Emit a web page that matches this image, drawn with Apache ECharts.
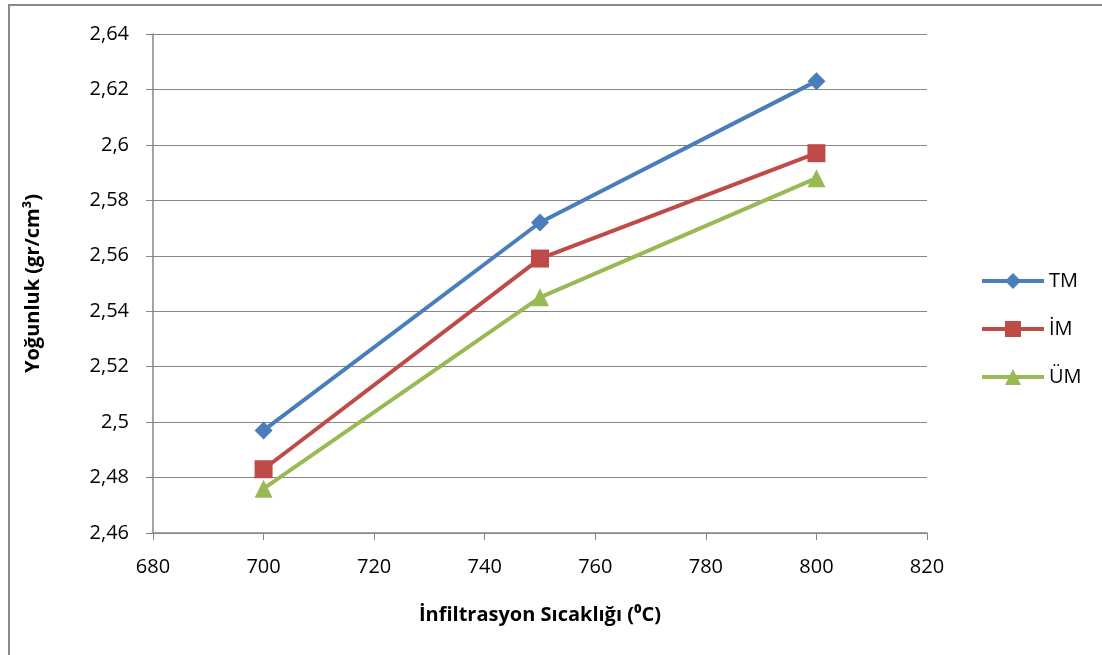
<!DOCTYPE html>
<html>
<head>
<meta charset="utf-8">
<script src="https://cdn.jsdelivr.net/npm/echarts@6/dist/echarts.min.js"></script>
<style>
  html, body { margin: 0; padding: 0; background: #fff; overflow: hidden; }
  #frame {
    position: absolute; left: 8px; top: 4px; width: 1200px; height: 700px;
    border-left: 2px solid #8a8a8a; border-top: 2px solid #8a8a8a;
  }
  #chart { position: absolute; left: 0; top: 0; width: 1102px; height: 655px; }
</style>
</head>
<body>
<div id="frame"></div>
<div id="chart"></div>
<script>
const temps = [700, 750, 800]
const tm = [2.497, 2.572, 2.623]
const im = [2.483, 2.559, 2.597]
const um = [2.476, 2.545, 2.588]

const font = '"Open Sans", "DejaVu Sans", sans-serif'
const axisGray = '#868686'

function pairs(vals) {
  return temps.map((t, i) => [t, vals[i]])
}

const chart = echarts.init(document.getElementById('chart'))
chart.setOption({
  backgroundColor: 'transparent',
  animation: false,
  textStyle: { fontFamily: font },
  grid: { left: 153, right: 175, top: 34, bottom: 122 },
  legend: {
    orient: 'vertical',
    left: 975,
    top: 266,
    itemGap: 28,
    itemWidth: 62,
    itemHeight: 20,
    lineStyle: { width: 4 },
    textStyle: { fontSize: 20, color: '#000', fontFamily: font },
    data: ['TM', 'İM', 'ÜM']
  },
  xAxis: {
    type: 'value',
    min: 680,
    max: 820,
    interval: 20,
    name: 'İnfiltrasyon Sıcaklığı (⁰C)',
    nameLocation: 'middle',
    nameGap: 72,
    nameTextStyle: { fontSize: 20, fontWeight: 'bold', color: '#000', fontFamily: font },
    axisLine: { lineStyle: { color: axisGray, width: 1.5 } },
    axisTick: { show: true, length: 7, lineStyle: { color: axisGray } },
    axisLabel: { fontSize: 20, color: '#000', margin: 24 },
    splitLine: { show: false }
  },
  yAxis: {
    type: 'value',
    min: 2.46,
    max: 2.64,
    interval: 0.02,
    name: 'Yoğunluk (gr/cm³)',
    nameLocation: 'middle',
    nameGap: 110,
    nameTextStyle: { fontSize: 20, fontWeight: 'bold', color: '#000', fontFamily: font },
    axisLine: { show: true, lineStyle: { color: axisGray, width: 1.5 } },
    axisTick: { show: true, length: 7, lineStyle: { color: axisGray } },
    axisLabel: {
      fontSize: 20, color: '#000', margin: 24,
      formatter: v => String(Math.round(v * 100) / 100).replace('.', ',')
    },
    splitLine: { show: true, lineStyle: { color: axisGray, width: 1.2 } }
  },
  series: [
    {
      name: 'TM', type: 'line', data: pairs(tm),
      symbol: 'diamond', symbolSize: 18,
      lineStyle: { color: '#4A7EBB', width: 4 },
      itemStyle: { color: '#4A7EBB' }
    },
    {
      name: 'İM', type: 'line', data: pairs(im),
      symbol: 'rect', symbolSize: 18,
      lineStyle: { color: '#BE4B48', width: 4 },
      itemStyle: { color: '#BE4B48' }
    },
    {
      name: 'ÜM', type: 'line', data: pairs(um),
      symbol: 'triangle', symbolSize: 18,
      lineStyle: { color: '#98B954', width: 4 },
      itemStyle: { color: '#98B954' }
    }
  ]
})
</script>
</body>
</html>
